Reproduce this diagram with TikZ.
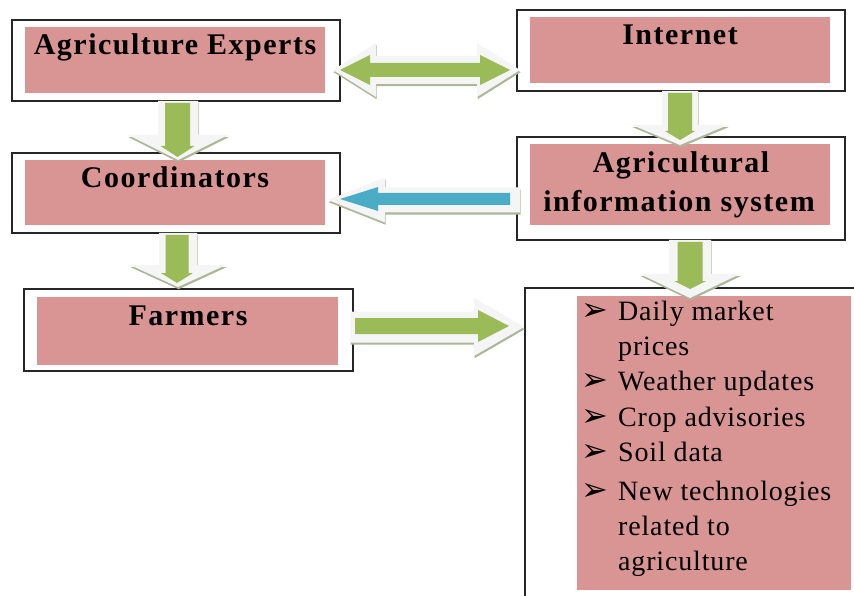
\documentclass[tikz,border=0pt]{standalone}
\usepackage{fontspec}
\setmainfont{Liberation Serif}
\newfontfamily\headfont[LetterSpace=5]{Liberation Serif}
\newfontfamily\bodyfont[LetterSpace=3]{Liberation Serif}
\newfontfamily\symfont{DejaVu Sans}
\usetikzlibrary{calc}
\definecolor{pinkfill}{RGB}{217,149,148}
\definecolor{arrgreen}{RGB}{155,187,89}
\definecolor{arrblue}{RGB}{75,172,198}
\definecolor{arrshadow}{RGB}{172,182,152}
\definecolor{arrwhite}{RGB}{245,245,245}
\tikzset{
 outerbox/.style={draw=black!85, line width=1.4pt, fill=white, inner sep=0pt, outer sep=0pt},
 pinkbox/.style={fill=pinkfill, inner sep=0pt, outer sep=0pt},
 headtext/.style={font=\headfont\bfseries\fontsize{30}{36}\selectfont, inner sep=0pt, anchor=base, text=black},
 itemtext/.style={font=\bodyfont\fontsize{28}{35}\selectfont, inner sep=0pt, anchor=base west, text=black},
 bulletmark/.style={font=\symfont\bfseries\fontsize{32}{36}\selectfont, inner sep=0pt, anchor=base west, text=black},
 arrshade/.style={fill=arrshadow, transform canvas={xshift=0.6pt,yshift=-2.2pt}},
 arrbevel/.style={fill=arrwhite},
 arrgreenfill/.style={fill=arrgreen},
 arrbluefill/.style={fill=arrblue},
}
% single block arrow: start, tip, shaft half-width, head half-width, head length, style
\newcommand\arrowshape[6]{%
 \coordinate (bs) at (#1); \coordinate (bt) at (#2);
 \coordinate (bh) at ($(bt)!#5!(bs)$);
 \path[#6] ($(bs)!#3!90:(bt)$) -- ($(bh)!#3!90:(bt)$) -- ($(bh)!#4!90:(bt)$) -- (bt)
   -- ($(bh)!#4!-90:(bt)$) -- ($(bh)!#3!-90:(bt)$) -- ($(bs)!#3!-90:(bt)$) -- cycle;}
% double block arrow: tip a, tip b, shaft half-width, head half-width, head length, style
\newcommand\dblshape[6]{%
 \coordinate (da) at (#1); \coordinate (db) at (#2);
 \coordinate (dha) at ($(da)!#5!(db)$); \coordinate (dhb) at ($(db)!#5!(da)$);
 \path[#6] (da) -- ($(dha)!#4!90:(db)$) -- ($(dha)!#3!90:(db)$) -- ($(dhb)!#3!-90:(da)$)
   -- ($(dhb)!#4!-90:(da)$) -- (db) -- ($(dhb)!#4!90:(da)$) -- ($(dhb)!#3!90:(da)$)
   -- ($(dha)!#3!-90:(db)$) -- ($(dha)!#4!-90:(db)$) -- cycle;}
\begin{document}
\begin{tikzpicture}[x=1pt,y=-1pt]
\useasboundingbox (0,0) rectangle (854,596);
\clip (0,0) rectangle (854,596);
\fill[white] (0,0) rectangle (854,596);
% boxes
\node[outerbox, minimum width=328pt, minimum height=81pt] (ae) at (176,60.5) {};
\node[pinkbox, minimum width=300pt, minimum height=66pt] (aep) at (175,60) {};
\node[headtext] (aet) at (175,55) {Agriculture Experts};

\node[outerbox, minimum width=328pt, minimum height=80pt] (co) at (176,193) {};
\node[pinkbox, minimum width=300pt, minimum height=65pt] (cop) at (175,192.5) {};
\node[headtext] (cot) at (175,188) {Coordinators};

\node[outerbox, minimum width=329pt, minimum height=82pt] (fa) at (188.5,330) {};
\node[pinkbox, minimum width=301pt, minimum height=68pt] (fap) at (187.5,331) {};
\node[headtext] (fat) at (188,325) {Farmers};

\node[outerbox, minimum width=328pt, minimum height=81pt] (in) at (681,50.5) {};
\node[pinkbox, minimum width=300pt, minimum height=66pt] (inp) at (680,50) {};
\node[headtext] (intx) at (680,45) {Internet};

\node[outerbox, minimum width=328pt, minimum height=103pt] (ais) at (681,188.5) {};
\node[pinkbox, minimum width=300pt, minimum height=81pt] (aisp) at (680,184.5) {};
\node[headtext] (aist1) at (681,173) {Agricultural};
\node[headtext] (aist2) at (679,212) {information system};

\node[outerbox, minimum width=355pt, minimum height=352pt] (bot) at (702.5,464) {};
\node[pinkbox, minimum width=274pt, minimum height=294pt] (botp) at (714,443) {};
\node[bulletmark] (b1) at (581,320) {➢};
\node[itemtext] (t1) at (618,320) {Daily market};
\node[itemtext] (t1b) at (618,355) {prices};
\node[bulletmark] (b2) at (581,390) {➢};
\node[itemtext] (t2) at (618,390) {Weather updates};
\node[bulletmark] (b3) at (581,426) {➢};
\node[itemtext] (t3) at (618,426) {Crop advisories};
\node[bulletmark] (b4) at (581,461) {➢};
\node[itemtext] (t4) at (618,461) {Soil data};
\node[bulletmark] (b5) at (581,500) {➢};
\node[itemtext] (t5) at (618,500) {New technologies};
\node[itemtext] (t5b) at (618,535) {related to};
\node[itemtext] (t5c) at (618,570) {agriculture};

% arrow end points, tied to the boxes
\coordinate (d6a) at ($(ae.east)+(-7,9.5)$);
\coordinate (d6b) at ($(in.west)+(3,19.5)$);
\coordinate (d6ai) at ($(ae.east)+(0,9.5)$);
\coordinate (d6bi) at ($(in.west)+(-7,19.5)$);

\coordinate (a1s) at ($(ae.south)+(2,0)$);
\coordinate (a1t) at ($(co.north)+(2,7)$);
\coordinate (a1si) at ($(ae.south)+(1.5,2)$);
\coordinate (a1ti) at ($(co.north)+(1.5,4)$);

\coordinate (a2s) at ($(co.south)+(2,0)$);
\coordinate (a2t) at ($(fa.north)+(-10.5,-2)$);
\coordinate (a2si) at ($(co.south)+(1,2)$);
\coordinate (a2ti) at ($(fa.north)+(-11.5,-6)$);

\coordinate (a3s) at ($(in.south)+(-1,0)$);
\coordinate (a3t) at ($(ais.north)+(-1,8)$);
\coordinate (a3si) at ($(in.south)+(-1,2)$);
\coordinate (a3ti) at ($(ais.north)+(-1,3)$);

\coordinate (a4s) at ($(ais.south)+(9,0)$);
\coordinate (a4t) at ($(bot.north)+(-12.5,10)$);
\coordinate (a4si) at ($(ais.south)+(9,2)$);
\coordinate (a4ti) at ($(bot.north)+(-12.5,1)$);

\coordinate (a5s) at ($(ais.west)+(3,11.5)$);
\coordinate (a5t) at ($(co.east)+(-12,7)$);
\coordinate (a5si) at ($(ais.west)+(-7,10.5)$);
\coordinate (a5ti) at ($(co.east)+(0,6)$);

\coordinate (a7s) at ($(fa.east)+(-3,-3)$);
\coordinate (a7t) at ($(bot.west)+(-1,-137)$);
\coordinate (a7si) at ($(fa.east)+(2,-4)$);
\coordinate (a7ti) at ($(bot.west)+(-16,-138)$);

% Agriculture Experts <-> Internet
\dblshape{d6a}{d6b}{14pt}{27pt}{43pt}{arrshade}
\dblshape{d6a}{d6b}{14pt}{27pt}{43pt}{arrbevel}
\dblshape{d6ai}{d6bi}{7pt}{15pt}{30pt}{arrgreenfill}
% Agriculture Experts -> Coordinators
\arrowshape{a1s}{a1t}{20pt}{50pt}{25pt}{arrshade}
\arrowshape{a1s}{a1t}{20pt}{50pt}{25pt}{arrbevel}
\arrowshape{a1si}{a1ti}{12.5pt}{17pt}{11pt}{arrgreenfill}
% Coordinators -> Farmers
\arrowshape{a2s}{a2t}{19pt}{48pt}{22pt}{arrshade}
\arrowshape{a2s}{a2t}{19pt}{48pt}{22pt}{arrbevel}
\arrowshape{a2si}{a2ti}{11.5pt}{16pt}{10pt}{arrgreenfill}
% Internet -> Agricultural information system
\arrowshape{a3s}{a3t}{18pt}{48pt}{20pt}{arrshade}
\arrowshape{a3s}{a3t}{18pt}{48pt}{20pt}{arrbevel}
\arrowshape{a3si}{a3ti}{12pt}{15pt}{9pt}{arrgreenfill}
% Agricultural information system -> list
\arrowshape{a4s}{a4t}{21pt}{50pt}{24pt}{arrshade}
\arrowshape{a4s}{a4t}{21pt}{50pt}{24pt}{arrbevel}
\arrowshape{a4si}{a4ti}{12.5pt}{16pt}{8pt}{arrgreenfill}
% Agricultural information system -> Coordinators (blue)
\arrowshape{a5s}{a5t}{12.5pt}{22.5pt}{57pt}{arrshade}
\arrowshape{a5s}{a5t}{12.5pt}{22.5pt}{57pt}{arrbevel}
\arrowshape{a5si}{a5ti}{6pt}{12pt}{38pt}{arrbluefill}
% Farmers -> list
\arrowshape{a7s}{a7t}{15.5pt}{29pt}{50pt}{arrshade}
\arrowshape{a7s}{a7t}{15.5pt}{29pt}{50pt}{arrbevel}
\arrowshape{a7si}{a7ti}{8pt}{16pt}{31pt}{arrgreenfill}
\end{tikzpicture}
\end{document}
